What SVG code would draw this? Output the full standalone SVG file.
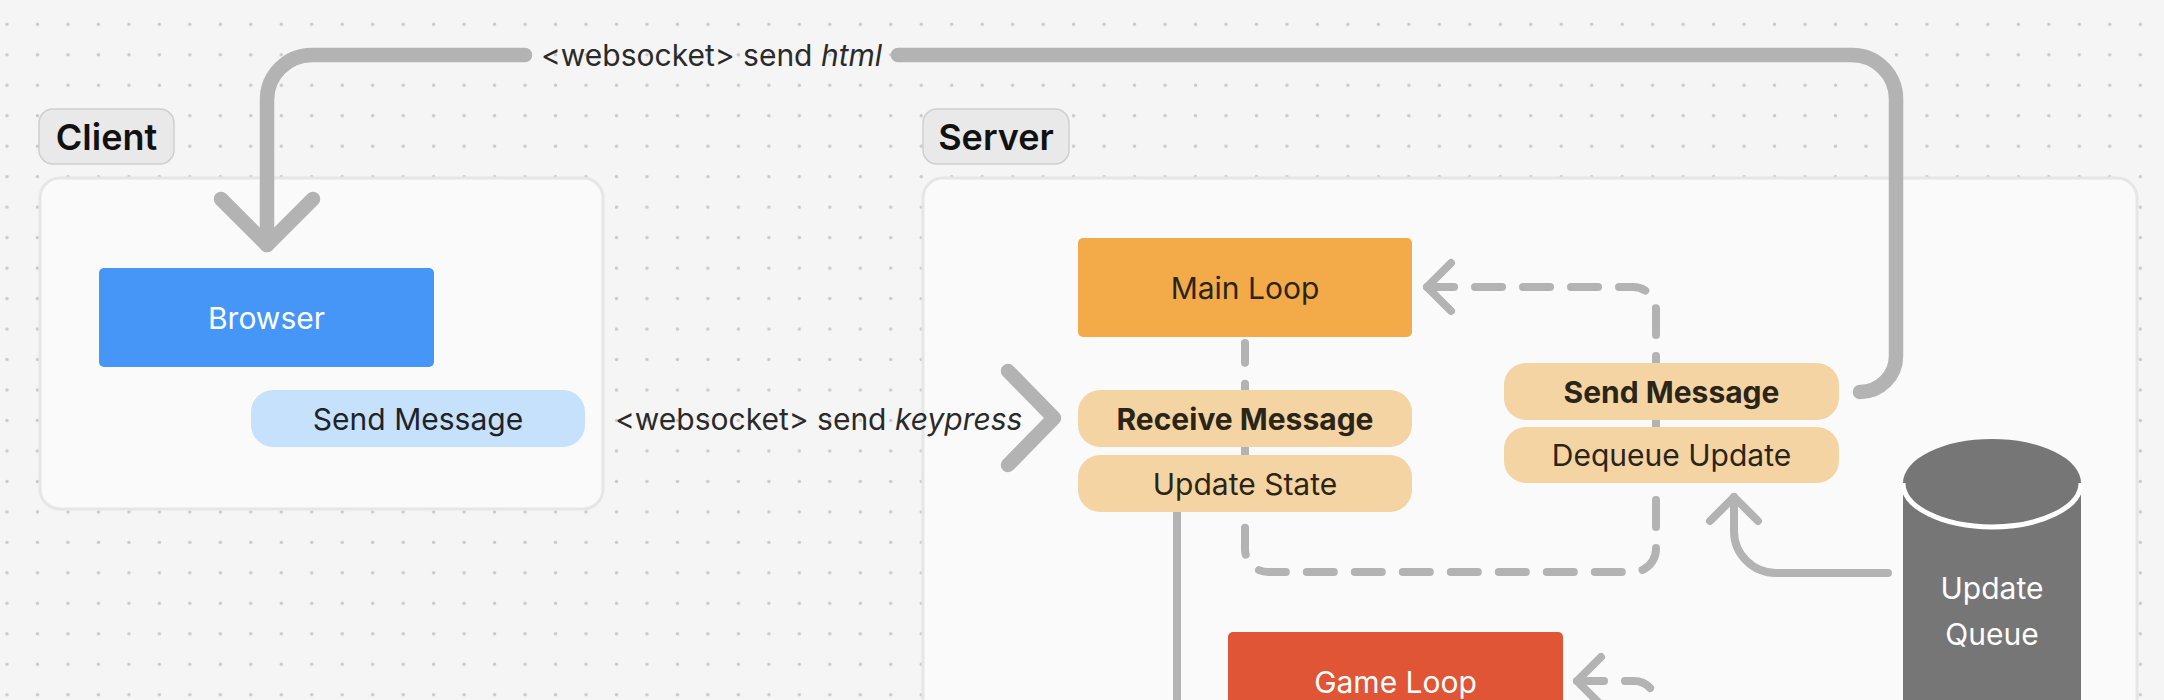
<svg xmlns="http://www.w3.org/2000/svg" width="2164" height="700" viewBox="0 0 2164 700">
<defs>
<pattern id="dots" patternUnits="userSpaceOnUse" x="-8.24" y="9.06" width="30.475" height="30.475">
<circle cx="15.2375" cy="15.2375" r="1.7" fill="#c9c9c9"/>
</pattern>
<style>
text{font-family:Inter,"Noto Sans","Liberation Sans",sans-serif;font-size:30px;text-anchor:middle}
.grp{font-size:36px;font-weight:600;fill:#111}
.lbl{fill:#e9e9e9;stroke:#cfcfcf;stroke-width:1.5}
.cont{fill:#fafafa;stroke:#e6e6e6;stroke-width:3}
.thick{fill:none;stroke:#b3b3b3;stroke-width:14.5;stroke-linecap:round;stroke-linejoin:round}
.thin{fill:none;stroke:#b3b3b3;stroke-width:8;stroke-linecap:round;stroke-linejoin:round}
.dash{fill:none;stroke:#b3b3b3;stroke-width:8;stroke-linecap:round;stroke-dasharray:27 21}
.edge{fill:#2a2a2a;text-anchor:start}
.pill{fill:#f5d4a3}
.dark{fill:#2b2519}
.w{fill:#fff}
</style>
</defs>
<rect width="2164" height="700" fill="#f5f5f5"/>
<rect width="2164" height="700" fill="url(#dots)"/>

<g id="client">
<rect class="cont" x="40" y="178" width="563" height="331" rx="20"/>
<rect class="lbl" x="39" y="109" width="135" height="55" rx="14"/>
<text class="grp" x="106.5" y="149.5">Client</text>
</g>
<g id="server">
<rect class="cont" x="923" y="178" width="1214" height="640" rx="20"/>
<rect class="lbl" x="923" y="109" width="146" height="55" rx="14"/>
<text class="grp" x="996" y="149.5">Server</text>
</g>

<g id="connectors">
<path class="thick" d="M525 55H312A45 45 0 0 0 267 100V245"/>
<polyline class="thick" points="221,199 267,245 313,199"/>
<path class="thick" d="M898 55H1852A44 44 0 0 1 1896 99V356A36 36 0 0 1 1860 392"/>
<polyline class="thick" points="1008,371 1054,418 1008,465"/>
<path class="dash" d="M1427 287H1633A23 23 0 0 1 1656 310V549A23 23 0 0 1 1633 572H1268A23 23 0 0 1 1245 549V343"/>
<polyline class="thin" points="1451,263 1427,287 1451,311"/>
<path class="thin" d="M1888 573H1776A42 42 0 0 1 1734 531V497"/>
<polyline class="thin" points="1710,521 1734,497 1758,521"/>
<path class="thin" d="M1177 512V710" stroke-width="7"/>
<path class="dash" d="M1577 681H1634A22 22 0 0 1 1656 703V760"/>
<polyline class="thin" points="1601,657 1577,681 1601,705"/>
<text class="edge" x="541" y="66">&lt;websocket&gt; send <tspan font-style="italic">html</tspan></text>
<text class="edge" x="615" y="430">&lt;websocket&gt; send <tspan font-style="italic">keypress</tspan></text>
</g>

<g id="browser">
<rect x="99" y="268" width="335" height="99" rx="5" fill="#4696f7"/>
<text class="w" x="266.5" y="328.5">Browser</text>
</g>
<g id="client-send">
<rect x="251" y="390" width="334" height="57" rx="22" fill="#c5e1fb"/>
<text x="418" y="429.5" fill="#1f2328">Send Message</text>
</g>
<g id="main-loop">
<rect x="1078" y="238" width="334" height="99" rx="5" fill="#f3ab4a"/>
<text class="dark" x="1245" y="298.5">Main Loop</text>
</g>
<g id="receive">
<rect class="pill" x="1078" y="390" width="334" height="57" rx="22"/>
<text class="dark" x="1245" y="429.5" font-weight="700">Receive Message</text>
</g>
<g id="update-state">
<rect class="pill" x="1078" y="455" width="334" height="57" rx="22"/>
<text class="dark" x="1245" y="494.5">Update State</text>
</g>
<g id="server-send">
<rect class="pill" x="1504" y="363" width="335" height="57" rx="22"/>
<text class="dark" x="1671.5" y="402.5" font-weight="700">Send Message</text>
</g>
<g id="dequeue">
<rect class="pill" x="1504" y="427" width="335" height="56" rx="22"/>
<text class="dark" x="1671.5" y="466">Dequeue Update</text>
</g>
<g id="update-queue">
<path d="M1903 483V760H2081V483Z" fill="#767676"/>
<ellipse cx="1992" cy="483" rx="89" ry="44" fill="#767676"/>
<path d="M1903 483A89 44 0 0 0 2081 483" fill="none" stroke="#fff" stroke-width="5"/>
<text class="w" x="1992" y="599">Update</text>
<text class="w" x="1992" y="645">Queue</text>
</g>
<g id="game-loop">
<rect x="1228" y="632" width="335" height="99" rx="5" fill="#e05535"/>
<text class="w" x="1395.5" y="692.5">Game Loop</text>
</g>
</svg>
